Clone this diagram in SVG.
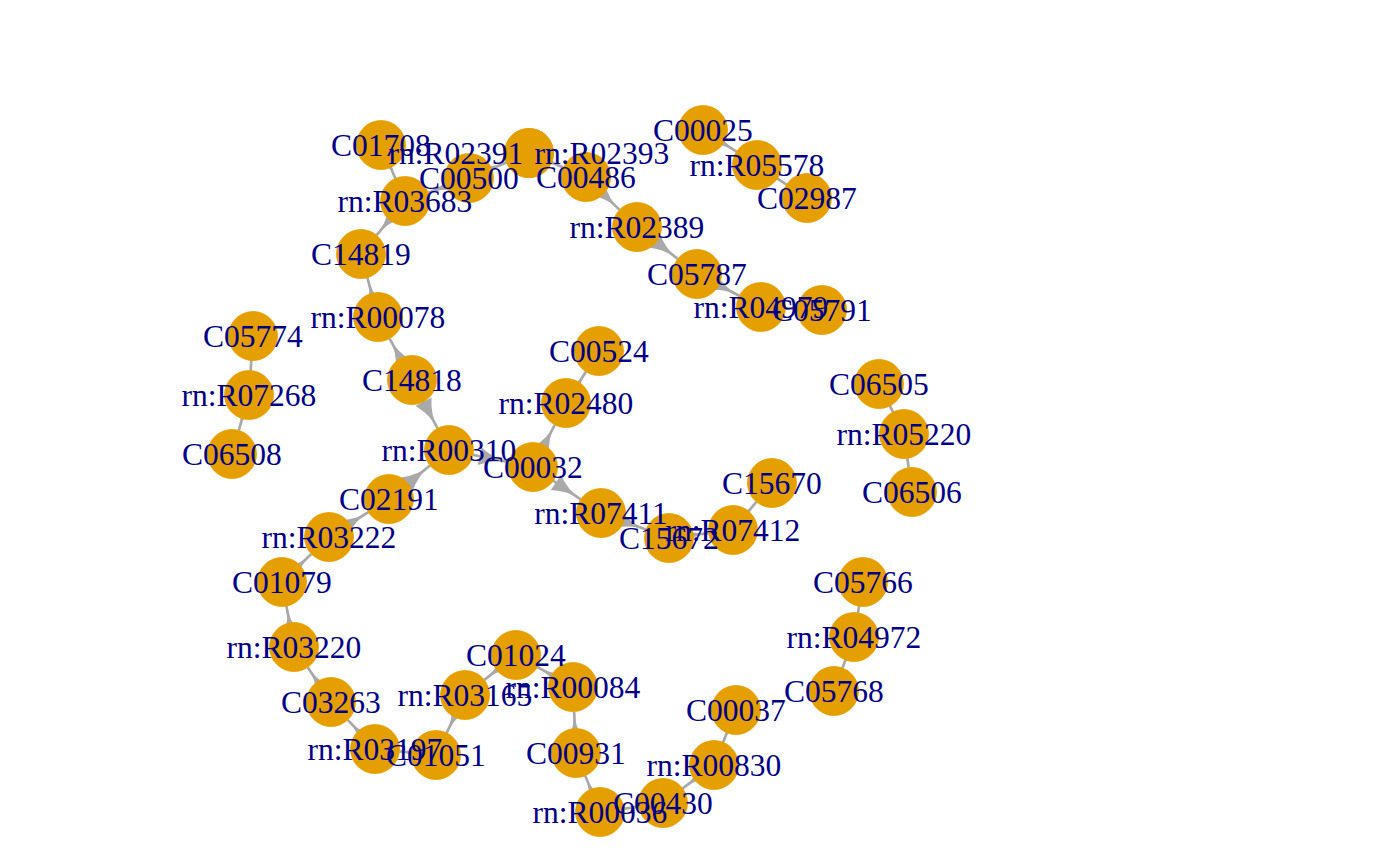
<svg xmlns="http://www.w3.org/2000/svg" width="1400" height="866" viewBox="0 0 1400 866">
<style>
.edge{stroke:#A9A9A9;stroke-width:2.7;fill:none;marker-end:url(#arr)}
.node circle{fill:#E69F00;stroke:#E69F00;stroke-width:0.8}
.lbl{font-family:"Liberation Serif","Times New Roman",serif;font-size:31.5px;fill:#00008B;text-anchor:middle}
</style>
<defs>
<marker id="arr" markerUnits="userSpaceOnUse" markerWidth="40" markerHeight="24" viewBox="-34 -12 40 24" refX="0" refY="0" orient="auto" overflow="visible">
<path d="M0,0 Q-15,0 -30,-9 L-30,9 Q-15,0 0,0 Z" fill="#A9A9A9"/>
</marker>
</defs>
<rect width="1400" height="866" fill="#FFFFFF"/>
<g id="connectors">
<line class="edge" x1="381" y1="145" x2="395.35" y2="178.48"/>
<line class="edge" x1="469" y1="178" x2="428.06" y2="192.71"/>
<line class="edge" x1="405" y1="201" x2="376.65" y2="235.15"/>
<line class="edge" x1="378" y1="317" x2="367.38" y2="277.65"/>
<line class="edge" x1="412" y1="380" x2="389.64" y2="338.56"/>
<line class="edge" x1="412" y1="380" x2="437.55" y2="428.34"/>
<line class="edge" x1="389" y1="499" x2="430.02" y2="465.50"/>
<line class="edge" x1="449" y1="450" x2="508.99" y2="462.14"/>
<line class="edge" x1="533" y1="467" x2="554.77" y2="424.78"/>
<line class="edge" x1="566" y1="403" x2="585.87" y2="371.68"/>
<line class="edge" x1="533" y1="467" x2="580.71" y2="499.27"/>
<line class="edge" x1="601" y1="513" x2="646.00" y2="529.55"/>
<line class="edge" x1="669" y1="538" x2="708.69" y2="533.04"/>
<line class="edge" x1="733" y1="530" x2="756.35" y2="501.86"/>
<line class="edge" x1="329" y1="537" x2="368.30" y2="512.11"/>
<line class="edge" x1="282" y1="582" x2="311.30" y2="553.94"/>
<line class="edge" x1="294" y1="647" x2="286.45" y2="606.09"/>
<line class="edge" x1="331" y1="702" x2="307.68" y2="667.33"/>
<line class="edge" x1="375" y1="749" x2="347.74" y2="719.89"/>
<line class="edge" x1="436" y1="755" x2="399.38" y2="751.40"/>
<line class="edge" x1="465" y1="695" x2="446.66" y2="732.94"/>
<line class="edge" x1="516" y1="655" x2="484.28" y2="679.88"/>
<line class="edge" x1="573" y1="687" x2="537.36" y2="666.99"/>
<line class="edge" x1="576" y1="753" x2="574.11" y2="711.47"/>
<line class="edge" x1="600" y1="812" x2="585.23" y2="775.69"/>
<line class="edge" x1="663" y1="803" x2="624.25" y2="808.54"/>
<line class="edge" x1="714" y1="765" x2="682.65" y2="788.36"/>
<line class="edge" x1="736" y1="710" x2="723.10" y2="742.25"/>
<line class="edge" x1="863" y1="582" x2="857.96" y2="612.82"/>
<line class="edge" x1="854" y1="637" x2="842.51" y2="668.02"/>
<line class="edge" x1="879" y1="384" x2="893.04" y2="412.09"/>
<line class="edge" x1="904" y1="434" x2="908.65" y2="467.73"/>
<line class="edge" x1="253" y1="336" x2="250.66" y2="370.56"/>
<line class="edge" x1="249" y1="395" x2="238.78" y2="430.46"/>
<line class="edge" x1="703" y1="130" x2="736.44" y2="151.67"/>
<line class="edge" x1="757" y1="165" x2="786.55" y2="184.51"/>
<line class="edge" x1="586" y1="177" x2="619.50" y2="209.85"/>
<line class="edge" x1="637" y1="227" x2="677.71" y2="258.89"/>
<line class="edge" x1="697" y1="274" x2="739.22" y2="295.77"/>
<line class="edge" x1="761" y1="307" x2="797.53" y2="308.80"/>
<line class="edge" x1="469" y1="178" x2="506.38" y2="162.42"/>
<line class="edge" x1="529" y1="153" x2="563.42" y2="167.49"/>
</g>
<g id="nodes">
<g id="C01708" class="node"><circle cx="381" cy="145" r="24.5"/></g>
<g id="rn-R03683" class="node"><circle cx="405" cy="201" r="24.5"/></g>
<g id="C00500" class="node"><circle cx="469" cy="178" r="24.5"/></g>
<g id="rn-R02391" class="node"><circle cx="529" cy="153" r="24.5"/></g>
<g id="rn-R02393" class="node"><circle cx="529" cy="153" r="24.5"/></g>
<g id="C00486" class="node"><circle cx="586" cy="177" r="24.5"/></g>
<g id="C00025" class="node"><circle cx="703" cy="130" r="24.5"/></g>
<g id="rn-R05578" class="node"><circle cx="757" cy="165" r="24.5"/></g>
<g id="C02987" class="node"><circle cx="807" cy="198" r="24.5"/></g>
<g id="rn-R02389" class="node"><circle cx="637" cy="227" r="24.5"/></g>
<g id="C05787" class="node"><circle cx="697" cy="274" r="24.5"/></g>
<g id="rn-R04979" class="node"><circle cx="761" cy="307" r="24.5"/></g>
<g id="C05791" class="node"><circle cx="822" cy="310" r="24.5"/></g>
<g id="C14819" class="node"><circle cx="361" cy="254" r="24.5"/></g>
<g id="rn-R00078" class="node"><circle cx="378" cy="317" r="24.5"/></g>
<g id="C05774" class="node"><circle cx="253" cy="336" r="24.5"/></g>
<g id="rn-R07268" class="node"><circle cx="249" cy="395" r="24.5"/></g>
<g id="C06508" class="node"><circle cx="232" cy="454" r="24.5"/></g>
<g id="C14818" class="node"><circle cx="412" cy="380" r="24.5"/></g>
<g id="C00524" class="node"><circle cx="599" cy="351" r="24.5"/></g>
<g id="rn-R02480" class="node"><circle cx="566" cy="403" r="24.5"/></g>
<g id="rn-R00310" class="node"><circle cx="449" cy="450" r="24.5"/></g>
<g id="C00032" class="node"><circle cx="533" cy="467" r="24.5"/></g>
<g id="C06505" class="node"><circle cx="879" cy="384" r="24.5"/></g>
<g id="rn-R05220" class="node"><circle cx="904" cy="434" r="24.5"/></g>
<g id="C06506" class="node"><circle cx="912" cy="492" r="24.5"/></g>
<g id="C15670" class="node"><circle cx="772" cy="483" r="24.5"/></g>
<g id="rn-R07411" class="node"><circle cx="601" cy="513" r="24.5"/></g>
<g id="C15672" class="node"><circle cx="669" cy="538" r="24.5"/></g>
<g id="rn-R07412" class="node"><circle cx="733" cy="530" r="24.5"/></g>
<g id="C02191" class="node"><circle cx="389" cy="499" r="24.5"/></g>
<g id="rn-R03222" class="node"><circle cx="329" cy="537" r="24.5"/></g>
<g id="C01079" class="node"><circle cx="282" cy="582" r="24.5"/></g>
<g id="C05766" class="node"><circle cx="863" cy="582" r="24.5"/></g>
<g id="rn-R04972" class="node"><circle cx="854" cy="637" r="24.5"/></g>
<g id="C05768" class="node"><circle cx="834" cy="691" r="24.5"/></g>
<g id="rn-R03220" class="node"><circle cx="294" cy="647" r="24.5"/></g>
<g id="C01024" class="node"><circle cx="516" cy="655" r="24.5"/></g>
<g id="rn-R00084" class="node"><circle cx="573" cy="687" r="24.5"/></g>
<g id="rn-R03165" class="node"><circle cx="465" cy="695" r="24.5"/></g>
<g id="C03263" class="node"><circle cx="331" cy="702" r="24.5"/></g>
<g id="C00037" class="node"><circle cx="736" cy="710" r="24.5"/></g>
<g id="rn-R03197" class="node"><circle cx="375" cy="749" r="24.5"/></g>
<g id="C01051" class="node"><circle cx="436" cy="755" r="24.5"/></g>
<g id="C00931" class="node"><circle cx="576" cy="753" r="24.5"/></g>
<g id="rn-R00830" class="node"><circle cx="714" cy="765" r="24.5"/></g>
<g id="C00430" class="node"><circle cx="663" cy="803" r="24.5"/></g>
<g id="rn-R00036" class="node"><circle cx="600" cy="812" r="24.5"/></g>
</g>
<g id="labels" class="lbl">
<text x="381" y="155.7">C01708</text>
<text x="405" y="211.7">rn:R03683</text>
<text x="469" y="188.7">C00500</text>
<text x="456" y="163.7">rn:R02391</text>
<text x="602" y="163.7">rn:R02393</text>
<text x="586" y="187.7">C00486</text>
<text x="703" y="140.7">C00025</text>
<text x="757" y="175.7">rn:R05578</text>
<text x="807" y="208.7">C02987</text>
<text x="637" y="237.7">rn:R02389</text>
<text x="697" y="284.7">C05787</text>
<text x="761" y="317.7">rn:R04979</text>
<text x="822" y="320.7">C05791</text>
<text x="361" y="264.7">C14819</text>
<text x="378" y="327.7">rn:R00078</text>
<text x="253" y="346.7">C05774</text>
<text x="249" y="405.7">rn:R07268</text>
<text x="232" y="464.7">C06508</text>
<text x="412" y="390.7">C14818</text>
<text x="599" y="361.7">C00524</text>
<text x="566" y="413.7">rn:R02480</text>
<text x="449" y="460.7">rn:R00310</text>
<text x="533" y="477.7">C00032</text>
<text x="879" y="394.7">C06505</text>
<text x="904" y="444.7">rn:R05220</text>
<text x="912" y="502.7">C06506</text>
<text x="772" y="493.7">C15670</text>
<text x="601" y="523.7">rn:R07411</text>
<text x="669" y="548.7">C15672</text>
<text x="733" y="540.7">rn:R07412</text>
<text x="389" y="509.7">C02191</text>
<text x="329" y="547.7">rn:R03222</text>
<text x="282" y="592.7">C01079</text>
<text x="863" y="592.7">C05766</text>
<text x="854" y="647.7">rn:R04972</text>
<text x="834" y="701.7">C05768</text>
<text x="294" y="657.7">rn:R03220</text>
<text x="516" y="665.7">C01024</text>
<text x="573" y="697.7">rn:R00084</text>
<text x="465" y="705.7">rn:R03165</text>
<text x="331" y="712.7">C03263</text>
<text x="736" y="720.7">C00037</text>
<text x="375" y="759.7">rn:R03197</text>
<text x="436" y="765.7">C01051</text>
<text x="576" y="763.7">C00931</text>
<text x="714" y="775.7">rn:R00830</text>
<text x="663" y="813.7">C00430</text>
<text x="600" y="822.7">rn:R00036</text>
</g>
</svg>
